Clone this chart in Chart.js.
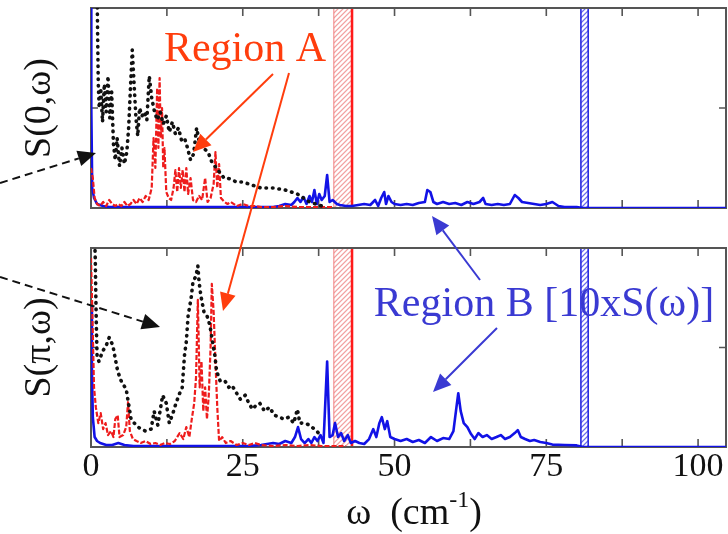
<!DOCTYPE html>
<html>
<head>
<meta charset="utf-8">
<script src="https://cdn.jsdelivr.net/npm/chart.js@4.4.0/dist/chart.umd.min.js"></script>
<style>
  html, body { margin: 0; padding: 0; background: #fff; }
  #fig { position: relative; width: 728px; height: 534px; overflow: hidden; }
  #fig canvas { position: absolute; left: 0; }
</style>
</head>
<body>
<div id="fig">
  <canvas id="topPanel" width="728" height="230" style="top:0"></canvas>
  <canvas id="bottomPanel" width="728" height="304" style="top:230px"></canvas>
  <canvas id="notes" width="728" height="534" style="top:0"></canvas>
</div>
<script>
// omega (cm^-1) vs intensity, each panel scaled to 0..1
const omegaMax = 104.6;
const xTickLabels = [0, 25, 50, 75, 100];
const redBand = [40.0, 43.0];
const blueBand = [80.7, 81.9];

// S(0,w): black dotted, red dashed (region A), blue solid (region B, x10)
const topDots = [[1.0,1.1],[1.1,0.85],[1.2,0.62],[1.35,0.5],[1.6,0.6],[1.9,0.43],[2.2,0.62],[2.5,0.48],[2.8,0.66],[3.1,0.45],[3.4,0.58],[3.7,0.32],[4.0,0.24],[4.3,0.35],[4.7,0.21],[5.1,0.3],[5.5,0.22],[5.9,0.28],[6.2,0.4],[6.5,0.6],[6.8,0.79],[7.1,0.62],[7.4,0.45],[7.7,0.36],[8.0,0.5],[8.4,0.46],[8.8,0.48],[9.2,0.44],[9.6,0.66],[10.0,0.55],[10.4,0.49],[10.9,0.44],[11.4,0.48],[11.9,0.42],[12.4,0.46],[12.9,0.38],[13.4,0.43],[13.9,0.37],[14.4,0.4],[14.9,0.34],[15.4,0.35],[15.9,0.3],[16.4,0.24],[16.9,0.27],[17.4,0.4],[17.9,0.32],[18.4,0.3],[18.9,0.29],[19.4,0.27],[19.9,0.23],[20.4,0.21],[20.9,0.19],[21.4,0.17],[21.9,0.15],[22.5,0.15],[23.2,0.14],[24,0.13],[25,0.13],[26,0.12],[27,0.11],[28,0.1],[29,0.1],[30,0.1],[31,0.095],[32,0.09],[33,0.08],[34,0.07],[35,0.05],[36,0.03],[37,0.02],[38,0.01]];
const topRed = [[0,0.2],[0.3,0.15],[0.6,0.05],[1,0.02],[1.5,0.01],[2,0.03],[2.5,0.01],[3,0.04],[3.5,0.02],[4,0.01],[4.5,0.02],[5,0.01],[5.5,0.03],[6,0.01],[6.5,0.02],[7,0.04],[7.5,0.02],[8,0.05],[8.5,0.03],[9,0.06],[9.5,0.04],[10,0.1],[10.3,0.35],[10.6,0.2],[10.9,0.6],[11.1,0.3],[11.3,0.65],[11.5,0.35],[11.7,0.5],[11.9,0.2],[12.1,0.3],[12.4,0.08],[12.8,0.05],[13.2,0.04],[13.6,0.1],[13.9,0.19],[14.2,0.08],[14.5,0.2],[14.8,0.1],[15.1,0.19],[15.4,0.08],[15.7,0.2],[16,0.07],[16.4,0.15],[16.8,0.04],[17.3,0.03],[17.8,0.06],[18.3,0.04],[18.8,0.15],[19.2,0.03],[19.7,0.05],[20.2,0.12],[20.5,0.28],[20.8,0.1],[21.1,0.22],[21.4,0.05],[22,0.03],[22.5,0.02],[23,0.03],[24,0.01],[25,0.02],[26,0.01],[27,0.01],[28,0.005],[30,0.005],[32,0.01],[34,0.005],[36,0.005],[38,0.005],[40,0.005]];
const topBlue = [[0,1.2],[0.05,0.5],[0.2,0.1],[0.5,0.05],[1,0.02],[2,0.01],[3,0.005],[6,0.005],[10,0.005],[15,0.005],[20,0.005],[25,0.005],[30,0.005],[31,0.01],[32,0.02],[33,0.015],[33.5,0.03],[34,0.05],[34.5,0.03],[35,0.055],[35.5,0.02],[36,0.06],[36.4,0.03],[36.8,0.09],[37.2,0.02],[37.6,0.07],[38,0.04],[38.5,0.06],[38.9,0.165],[39.3,0.03],[39.8,0.04],[40.5,0.02],[41,0.015],[42,0.01],[43,0.01],[44,0.015],[45,0.02],[46,0.015],[46.8,0.04],[47.3,0.01],[47.8,0.05],[48.3,0.08],[48.6,0.02],[49,0.06],[49.5,0.03],[50,0.02],[51,0.015],[52,0.02],[53,0.015],[54,0.025],[55,0.03],[55.4,0.09],[55.9,0.08],[56.4,0.03],[57,0.02],[58,0.03],[59,0.02],[60,0.025],[61,0.015],[62,0.03],[63,0.02],[64,0.03],[64.6,0.05],[65,0.02],[66,0.015],[67,0.02],[68,0.015],[69,0.02],[69.8,0.065],[70.4,0.05],[71,0.03],[72,0.025],[73,0.02],[74,0.015],[75,0.02],[76,0.03],[77,0.01],[78,0.005],[79,0.005],[80,0.005],[81,0],[90,0],[104.6,0]];

// S(pi,w)
const botDots = [[0.5,1.15],[0.7,0.95],[0.8,0.75],[0.9,0.58],[1.0,0.46],[1.3,0.43],[1.9,0.48],[2.5,0.51],[3.0,0.55],[3.6,0.51],[3.9,0.46],[4.4,0.38],[5.0,0.33],[5.8,0.29],[6.6,0.14],[7.4,0.11],[8.2,0.09],[9.0,0.08],[9.9,0.09],[10.4,0.18],[11.0,0.11],[11.8,0.26],[12.4,0.22],[12.9,0.12],[13.5,0.17],[14.0,0.22],[14.6,0.27],[15.0,0.29],[15.4,0.46],[15.7,0.53],[16.0,0.66],[16.5,0.75],[16.8,0.83],[17.3,0.86],[17.6,0.91],[17.8,0.83],[18.1,0.76],[18.6,0.68],[19.1,0.66],[19.6,0.61],[19.9,0.55],[20.4,0.46],[20.7,0.38],[21.3,0.33],[22.1,0.33],[22.7,0.3],[23.2,0.31],[23.8,0.28],[24.6,0.24],[25.4,0.26],[26.0,0.22],[26.6,0.19],[27.2,0.21],[27.8,0.22],[28.6,0.18],[29.4,0.2],[30.2,0.16],[31.0,0.15],[31.8,0.14],[32.6,0.15],[33.4,0.12],[34.0,0.19],[34.4,0.12],[35.2,0.12],[36.0,0.11],[37.2,0.08],[38,0.05]];
const botRed = [[0,0.95],[0.2,0.7],[0.5,0.3],[0.8,0.2],[1.2,0.12],[1.6,0.17],[2.0,0.09],[2.4,0.12],[2.8,0.06],[3.3,0.08],[3.7,0.05],[4.0,0.14],[4.4,0.16],[4.7,0.05],[5.3,0.06],[5.8,0.1],[6.1,0.225],[6.4,0.08],[6.9,0.04],[7.5,0.03],[8.2,0.02],[9,0.03],[9.8,0.015],[10.6,0.02],[11.4,0.01],[12.2,0.02],[13,0.015],[13.8,0.03],[14.6,0.07],[15.2,0.04],[15.7,0.1],[16.2,0.05],[16.6,0.14],[17.0,0.22],[17.3,0.35],[17.6,0.74],[17.9,0.3],[18.2,0.43],[18.5,0.18],[18.8,0.3],[19.1,0.14],[19.4,0.26],[19.7,0.5],[19.9,0.82],[20.2,0.68],[20.5,0.43],[20.8,0.2],[21.1,0.03],[21.6,0.05],[22.2,0.02],[23,0.03],[24,0.01],[25,0.02],[26,0.01],[27,0.02],[28,0.01],[30,0.005],[32,0.01],[34,0.005],[36,0.01],[38,0.005],[40,0.005],[42,0.005]];
const botBlue = [[0,0.71],[0.15,0.4],[0.3,0.15],[0.6,0.05],[1,0.03],[1.5,0.02],[2.5,0.01],[3.5,0.01],[4.5,0.02],[5.5,0.01],[7,0.005],[10,0.005],[14,0.005],[18,0.005],[22,0.005],[26,0.005],[28,0.01],[30,0.02],[31,0.015],[32,0.03],[33,0.02],[33.6,0.05],[34.1,0.1],[34.6,0.04],[35.2,0.02],[35.8,0.04],[36.3,0.02],[36.8,0.05],[37.3,0.03],[37.8,0.06],[38.3,0.02],[38.9,0.43],[39.3,0.05],[39.8,0.06],[40.2,0.12],[40.7,0.05],[41.2,0.07],[41.7,0.03],[42.3,0.06],[42.8,0.02],[43.5,0.03],[44.2,0.02],[45,0.015],[45.8,0.04],[46.5,0.09],[47,0.05],[47.5,0.12],[47.9,0.15],[48.4,0.09],[48.8,0.13],[49.3,0.05],[50,0.04],[51,0.03],[52,0.04],[53,0.025],[54,0.035],[55,0.02],[56,0.05],[57,0.03],[58,0.045],[59,0.04],[59.7,0.08],[60.2,0.2],[60.5,0.27],[60.9,0.18],[61.4,0.12],[62,0.1],[62.6,0.065],[63.2,0.04],[63.8,0.07],[64.5,0.05],[65.2,0.06],[66,0.04],[66.8,0.05],[67.5,0.06],[68.2,0.04],[69,0.05],[69.8,0.07],[70.3,0.085],[70.8,0.05],[71.5,0.04],[72.3,0.03],[73,0.035],[74,0.025],[75,0.02],[76,0.012],[78,0.01],[80,0.008],[81,0],[90,0],[104.6,0]];

const SERIF = '"Liberation Serif", "Times New Roman", serif';
const toPts = pairs => pairs.map(([x, y]) => ({ x, y }));

function hatchBand(ctx, area, x, band, hatchColor, leftColor, leftWidth, rightColor, rightWidth) {
  const x0 = x.getPixelForValue(band[0]);
  const x1 = x.getPixelForValue(band[1]);
  const h = area.bottom - area.top;
  ctx.save();
  ctx.beginPath();
  ctx.rect(x0, area.top, x1 - x0, h);
  ctx.clip();
  ctx.strokeStyle = hatchColor;
  ctx.lineWidth = 1.2;
  for (let k = -h; k < x1 - x0 + h; k += 5) {
    ctx.beginPath();
    ctx.moveTo(x0 + k, area.bottom);
    ctx.lineTo(x0 + k + h, area.top);
    ctx.stroke();
  }
  ctx.restore();
  ctx.save();
  ctx.lineWidth = leftWidth;
  ctx.strokeStyle = leftColor;
  ctx.beginPath(); ctx.moveTo(x0, area.top); ctx.lineTo(x0, area.bottom); ctx.stroke();
  ctx.lineWidth = rightWidth;
  ctx.strokeStyle = rightColor;
  ctx.beginPath(); ctx.moveTo(x1, area.top); ctx.lineTo(x1, area.bottom); ctx.stroke();
  ctx.restore();
}

// frame, inward ticks and the two bands, all underneath the curves
const panelDecor = {
  id: 'panelDecor',
  beforeDatasetsDraw(chart) {
    const { ctx, chartArea: a, scales: { x, y } } = chart;
    hatchBand(ctx, a, x, redBand, '#f2a0a0', '#f08080', 1, '#ff1a1a', 2.5);
    hatchBand(ctx, a, x, blueBand, '#6a6aee', '#2a2ae0', 1.6, '#2a2ae0', 1.6);
    ctx.save();
    ctx.strokeStyle = '#555';
    ctx.lineWidth = 2;
    ctx.strokeRect(a.left, a.top, a.right - a.left, a.bottom - a.top);
    ctx.lineWidth = 1.6;
    ctx.beginPath();
    for (let v = 12.5; v < omegaMax; v += 12.5) {
      const px = x.getPixelForValue(v);
      ctx.moveTo(px, a.top); ctx.lineTo(px, a.top + 8);
      ctx.moveTo(px, a.bottom); ctx.lineTo(px, a.bottom - 8);
    }
    const py = y.getPixelForValue(0.5);
    ctx.moveTo(a.left, py); ctx.lineTo(a.left + 7, py);
    ctx.moveTo(a.right, py); ctx.lineTo(a.right - 7, py);
    ctx.stroke();
    ctx.restore();
  }
};

// x-axis title with the superscript drawn under the bottom panel
const omegaTitle = {
  id: 'omegaTitle',
  afterDraw(chart) {
    const { ctx } = chart;
    const main = 'ω  (cm', sup = '-1', tail = ')';
    ctx.save();
    ctx.fillStyle = '#111';
    ctx.textBaseline = 'alphabetic';
    ctx.font = '38px ' + SERIF;
    const wMain = ctx.measureText(main).width;
    const wTail = ctx.measureText(tail).width;
    ctx.font = '24px ' + SERIF;
    const wSup = ctx.measureText(sup).width;
    let x0 = 414 - (wMain + wSup + wTail) / 2;
    const base = 294;
    ctx.font = '38px ' + SERIF;
    ctx.fillText(main, x0, base);
    ctx.font = '24px ' + SERIF;
    ctx.fillText(sup, x0 + wMain, base - 17);
    ctx.font = '38px ' + SERIF;
    ctx.fillText(tail, x0 + wMain + wSup, base);
    ctx.restore();
  }
};

function makePanel(id, dots, red, blue, yTitle, showX, padTop, padBottom) {
  return new Chart(document.getElementById(id), {
    type: 'line',
    data: {
      datasets: [
        { data: toPts(dots), borderColor: '#111', borderWidth: 3.6, borderDash: [0.5, 6], borderCapStyle: 'round', borderJoinStyle: 'round', order: 0 },
        { data: toPts(red), borderColor: '#ee1c1c', borderWidth: 2.2, borderDash: [5, 2], borderJoinStyle: 'round', order: 1 },
        { data: toPts(blue), borderColor: '#1212e6', borderWidth: 2.6, borderJoinStyle: 'round', order: 2 }
      ]
    },
    options: {
      responsive: false,
      animation: false,
      events: [],
      layout: { padding: { left: 0, right: 2, top: padTop, bottom: padBottom } },
      elements: { point: { radius: 0 }, line: { tension: 0 } },
      plugins: { legend: { display: false }, tooltip: { enabled: false } },
      scales: {
        x: {
          type: 'linear', min: 0, max: omegaMax, display: showX,
          grid: { display: false, drawTicks: false },
          border: { display: false },
          afterBuildTicks: s => { s.ticks = xTickLabels.map(v => ({ value: v })); },
          ticks: { color: '#111', padding: 3, font: { family: SERIF, size: 34, lineHeight: 1 } },
          afterFit: s => { s.height = showX ? 87 : 0; }
        },
        y: {
          min: 0, max: 1,
          grid: { display: false, drawTicks: false },
          border: { display: false },
          ticks: { display: false },
          title: { display: true, text: yTitle, color: '#111', padding: { top: 21 }, font: { family: SERIF, size: 38, lineHeight: 1 } },
          afterFit: s => { s.width = 91; }
        }
      }
    },
    plugins: showX ? [panelDecor, omegaTitle] : [panelDecor]
  });
}

makePanel('topPanel', topDots, topRed, topBlue, 'S(0,ω)', false, 8, 22);
makePanel('bottomPanel', botDots, botRed, botBlue, 'S(π,ω)', true, 18, 0);

// annotation layer: labels and arrows spanning both panels
const notes = document.getElementById('notes').getContext('2d');

function arrow(ctx, x0, y0, x1, y1, color, dash, len, half) {
  const ang = Math.atan2(y1 - y0, x1 - x0);
  const bx = x1 - len * Math.cos(ang), by = y1 - len * Math.sin(ang);
  ctx.save();
  ctx.strokeStyle = color;
  ctx.fillStyle = color;
  ctx.lineWidth = 2;
  ctx.setLineDash(dash);
  ctx.beginPath(); ctx.moveTo(x0, y0); ctx.lineTo(bx, by); ctx.stroke();
  ctx.setLineDash([]);
  ctx.beginPath();
  ctx.moveTo(x1, y1);
  ctx.lineTo(bx + half * Math.sin(ang), by - half * Math.cos(ang));
  ctx.lineTo(bx - half * Math.sin(ang), by + half * Math.cos(ang));
  ctx.closePath();
  ctx.fill();
  ctx.restore();
}

const orange = '#ff3d0d', violet = '#3a3ad2';
notes.font = '42px ' + SERIF;
notes.textAlign = 'center';
notes.textBaseline = 'alphabetic';
notes.fillStyle = orange;
notes.fillText('Region A', 245, 61);
notes.fillStyle = violet;
notes.fillText('Region B [10xS(ω)]', 544, 316);

arrow(notes, 273, 74, 193, 152, orange, [], 18, 8);
arrow(notes, 289, 73, 223, 311, orange, [], 18, 8);
arrow(notes, 0, 183, 96, 153, '#111', [8, 5], 18, 8);
arrow(notes, 0, 277, 160, 327, '#111', [8, 5], 18, 8);
arrow(notes, 480, 280, 432, 216, violet, [], 18, 8);
arrow(notes, 497, 328, 433, 392, violet, [], 18, 8);
</script>
</body>
</html>
